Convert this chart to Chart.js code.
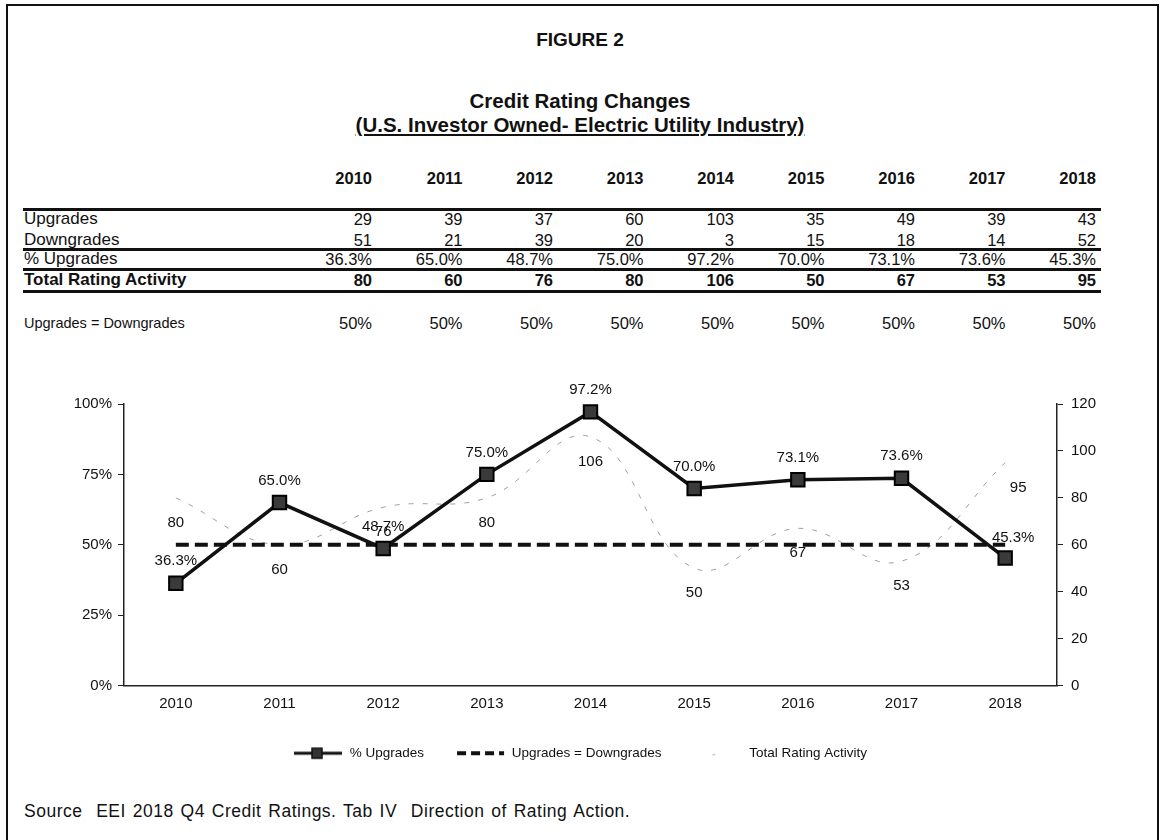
<!DOCTYPE html>
<html>
<head>
<meta charset="utf-8">
<script src="https://cdn.jsdelivr.net/npm/chart.js@4.4.1/dist/chart.umd.min.js"></script>
<style>
  body { margin: 0; width: 1160px; height: 840px; background: #fff; position: relative; overflow: hidden;
         font-family: "Liberation Sans", Arial, sans-serif; color: #111; }
  .frame { position: absolute; left: 6px; top: 4px; width: 1149px; height: 880px; border: 2px solid #111; }
  .title { position: absolute; left: 0; width: 1160px; text-align: center; font-weight: bold; }
  .cell { position: absolute; width: 240px; height: 20px; line-height: 20px; font-size: 16.5px; white-space: nowrap; }
  .rule { position: absolute; left: 23px; width: 1078px; height: 3px; background: #111; }
  .source { position: absolute; left: 24px; top: 801px; font-size: 17.5px; letter-spacing: 0.5px; word-spacing: 1.5px; white-space: pre; }
  #wrap { position: absolute; left: 0; top: 360px; width: 1160px; height: 440px; }
</style>
</head>
<body>
<div class="frame"></div>
<div class="title" style="top:29px;font-size:19px">FIGURE 2</div>
<div class="title" style="top:89px;font-size:20.5px">Credit Rating Changes</div>
<div class="title" style="top:113px;font-size:20.5px;text-decoration:underline">(U.S. Investor Owned- Electric Utility Industry)</div>
<div id="table"></div>
<div class="source">Source  EEI 2018 Q4 Credit Ratings. Tab IV  Direction of Rating Action.</div>
<div id="wrap"><canvas id="chart"></canvas></div>

<script>
const years = ['2010', '2011', '2012', '2013', '2014', '2015', '2016', '2017', '2018']
const upgrades = [29, 39, 37, 60, 103, 35, 49, 39, 43]
const downgrades = [51, 21, 39, 20, 3, 15, 18, 14, 52]
const pctUpgrades = [36.3, 65.0, 48.7, 75.0, 97.2, 70.0, 73.1, 73.6, 45.3]
const totalActivity = [80, 60, 76, 80, 106, 50, 67, 53, 95]
const breakEven = [50, 50, 50, 50, 50, 50, 50, 50, 50]
const pctTicks = [0, 25, 50, 75, 100]
const countTicks = [0, 20, 40, 60, 80, 100, 120]

//    ------- table above the chart ----------
const table = document.getElementById('table')
const colRight = i => 372 + i * 90.5

function cell(text, right, cy, bold, alignLeft, size) {
  const d = document.createElement('div')
  d.className = 'cell'
  d.textContent = text
  d.style.top = (cy - 10) + 'px'
  if (alignLeft) {
    d.style.left = right + 'px'
  } else {
    d.style.left = (right - 240) + 'px'
    d.style.textAlign = 'right'
  }
  if (bold) d.style.fontWeight = 'bold'
  if (size) d.style.fontSize = size + 'px'
  table.appendChild(d)
}

function rule(y) {
  const d = document.createElement('div')
  d.className = 'rule'
  d.style.top = (y - 1) + 'px'
  table.appendChild(d)
}

const rows = [
  { label: 'Upgrades', values: upgrades.map(String), y: 219 },
  { label: 'Downgrades', values: downgrades.map(String), y: 240 },
  { label: '% Upgrades', values: pctUpgrades.map(v => v.toFixed(1) + '%'), y: 259 },
  { label: 'Total Rating Activity', values: totalActivity.map(String), y: 280, bold: true },
  { label: 'Upgrades = Downgrades', values: breakEven.map(v => v + '%'), y: 323, labelSize: 14.5 }
]

years.forEach((y, i) => cell(y, colRight(i), 178, true))
rows.forEach(r => {
  cell(r.label, 24, r.y, r.bold, true, r.labelSize || 17)
  r.values.forEach((v, i) => cell(v, colRight(i), r.y, r.bold))
})
;[209, 249, 269, 291].forEach(rule)

//    ------- legend symbols ----------
function legendIcon(kind) {
  const c = document.createElement('canvas')
  c.width = 50
  c.height = 14
  const g = c.getContext('2d')
  g.beginPath()
  if (kind === 'pct') {
    g.strokeStyle = '#111'
    g.lineWidth = 3
    g.moveTo(1, 7); g.lineTo(49, 7); g.stroke()
    g.fillStyle = '#333'
    g.fillRect(19, 2, 10, 10)
    g.lineWidth = 1.5
    g.strokeRect(19, 2, 10, 10)
  } else if (kind === 'eq') {
    g.strokeStyle = '#111'
    g.lineWidth = 4
    g.setLineDash([9, 5])
    g.moveTo(2, 7); g.lineTo(49, 7); g.stroke()
  } else {
    g.strokeStyle = '#aaa'
    g.lineWidth = 1
    g.setLineDash([3, 8])
    g.moveTo(20, 9); g.lineTo(30, 5); g.stroke()
  }
  return c
}

//    ------- value labels ----------
const pointLabels = {
  id: 'pointLabels',
  afterDatasetsDraw(chart) {
    const ctx = chart.ctx
    const last = years.length - 1
    ctx.save()
    ctx.font = '15px "Liberation Sans", Arial, sans-serif'
    ctx.fillStyle = '#111'
    ctx.textAlign = 'center'
    ctx.textBaseline = 'middle'
    chart.getDatasetMeta(0).data.forEach((p, i) => {
      ctx.fillText(pctUpgrades[i].toFixed(1) + '%', p.x + (i === last ? 8 : 0), p.y - (i === last ? 20 : 22))
    })
    chart.getDatasetMeta(2).data.forEach((p, i) => {
      ctx.fillText(String(totalActivity[i]), p.x + (i === last ? 13 : 0), p.y + 25)
    })
    ctx.restore()
  }
}

Chart.defaults.font.family = '"Liberation Sans", Arial, sans-serif'
Chart.defaults.font.size = 15
Chart.defaults.color = '#111'

const ctx = document.getElementById('chart').getContext('2d')

const chart = new Chart(ctx, {
  type: 'line',
  data: {
    labels: years,
    datasets: [{
      label: '% Upgrades',
      data: pctUpgrades,
      yAxisID: 'y',
      borderColor: '#111',
      borderWidth: 3.5,
      pointStyle: 'rect',
      pointRadius: 9.5,
      pointBackgroundColor: '#3a3a3a',
      pointBorderColor: '#000',
      pointBorderWidth: 2,
      tension: 0
    }, {
      label: 'Upgrades = Downgrades',
      data: breakEven,
      yAxisID: 'y',
      borderColor: '#111',
      borderWidth: 4,
      borderDash: [13, 6],
      pointRadius: 0,
      tension: 0
    }, {
      label: 'Total Rating Activity',
      data: totalActivity,
      yAxisID: 'y1',
      borderColor: '#a0a0a0',
      borderWidth: 1,
      borderDash: [5, 9],
      pointRadius: 0,
      tension: 0.4
    }]
  },
  options: {
    responsive: true,
    maintainAspectRatio: false,
    animation: false,
    layout: { padding: { top: 44, bottom: 30, left: 0, right: 0 } },
    plugins: {
      tooltip: { enabled: false },
      legend: {
        position: 'bottom',
        labels: {
          usePointStyle: true,
          pointStyleWidth: 50,
          padding: 31,
          font: { size: 13.5 },
          generateLabels: c => c.data.datasets.map((d, i) => ({
            text: d.label,
            pointStyle: legendIcon(['pct', 'eq', 'tot'][i]),
            datasetIndex: i,
            fontColor: '#111',
            lineWidth: 0,
            hidden: false
          }))
        }
      }
    },
    scales: {
      x: {
        offset: true,
        grid: { display: false, drawTicks: false },
        border: { color: '#222', width: 1.5 },
        ticks: { padding: 9 },
        afterFit: s => { s.height = 30 }
      },
      y: {
        position: 'left',
        min: 0,
        max: 100,
        afterBuildTicks: s => { s.ticks = pctTicks.map(v => ({ value: v })) },
        ticks: { callback: v => v + '%', padding: 6 },
        grid: { drawOnChartArea: false, drawTicks: true, tickLength: 6, color: '#222' },
        border: { color: '#222', width: 1.5 },
        afterFit: s => { s.width = 124 }
      },
      y1: {
        position: 'right',
        min: 0,
        max: 120,
        afterBuildTicks: s => { s.ticks = countTicks.map(v => ({ value: v })) },
        ticks: { padding: 8 },
        grid: { drawOnChartArea: false, drawTicks: true, tickLength: 6, color: '#222' },
        border: { color: '#222', width: 1.5 },
        afterFit: s => { s.width = 103 }
      }
    }
  },
  plugins: [pointLabels]
})
</script>
</body>
</html>
